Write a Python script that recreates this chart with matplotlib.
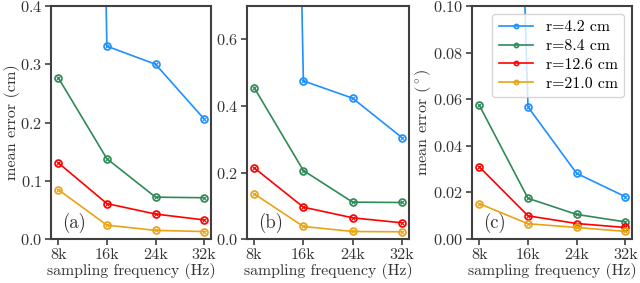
import numpy as np
import matplotlib
matplotlib.use("Agg")
import matplotlib.pyplot as plt

plt.rcParams['font.family'] = 'serif'
plt.rcParams['font.serif'] = ['cmr10']
plt.rcParams['mathtext.fontset'] = 'cm'
plt.rcParams['axes.unicode_minus'] = False
plt.rcParams['axes.formatter.use_mathtext'] = True

freqs = [8, 16, 24, 32]
freq_labels = ['8k', '16k', '24k', '32k']
radii = ['r=4.2 cm', 'r=8.4 cm', 'r=12.6 cm', 'r=21.0 cm']
colors = ['#1e90ff', '#2e8b57', '#ff0000', '#e8a317']

# (a) position error in cm
err_a = [
    [5.0, 0.331, 0.300, 0.206],
    [0.277, 0.138, 0.072, 0.071],
    [0.131, 0.061, 0.043, 0.033],
    [0.085, 0.024, 0.015, 0.013],
]
# (b) error in cm
err_b = [
    [8.0, 0.475, 0.423, 0.305],
    [0.455, 0.206, 0.111, 0.110],
    [0.214, 0.096, 0.064, 0.049],
    [0.136, 0.038, 0.023, 0.022],
]
# (c) angular error in degrees
err_c = [
    [0.75, 0.0567, 0.0282, 0.0182],
    [0.0574, 0.0175, 0.0106, 0.0074],
    [0.0310, 0.0100, 0.0067, 0.0050],
    [0.0152, 0.0066, 0.0050, 0.0033],
]

fig = plt.figure(figsize=(6.4, 2.83), dpi=100)
positions = [
    [0.080, 0.155, 0.250, 0.824],
    [0.386, 0.155, 0.253, 0.824],
    [0.738, 0.155, 0.250, 0.824],
]
panels = [err_a, err_b, err_c]
ylims = [(0, 0.4), (0, 0.7), (0, 0.10)]
yticks = [np.arange(0, 0.41, 0.1), [0.0, 0.2, 0.4, 0.6], np.arange(0, 0.101, 0.02)]
ylabels = ['mean error (cm)', None, r'mean error ($^\circ$)']
tags = ['(a)', '(b)', '(c)']
fs = 11.7
spine_col = '#404040'

for i in range(3):
    ax = fig.add_axes(positions[i])
    for j in range(4):
        ax.plot(freqs, panels[i][j], color=colors[j], lw=1.2, marker='o',
                ms=5, mfc='none', mew=1.2, label=radii[j])
        ax.plot(freqs, panels[i][j], color=colors[j], lw=0, marker='x',
                ms=3, mew=0.8)
    ax.set_xlim(6.85, 33.15)
    ax.set_ylim(*ylims[i])
    ax.set_yticks(yticks[i])
    ax.set_xticks(freqs)
    ax.set_xticklabels(freq_labels)
    ax.tick_params(labelsize=fs, colors=spine_col, length=4, width=1.2,
                   labelcolor='#333333', pad=2.5)
    for s in ax.spines.values():
        s.set_color(spine_col)
        s.set_linewidth(1.5)
    ax.set_xlabel('sampling frequency (Hz)', fontsize=11.3, color='#333333', labelpad=1)
    if ylabels[i]:
        ax.set_ylabel(ylabels[i], fontsize=fs, color='#333333', labelpad=0)
    ax.text(0.07, 0.05, tags[i], transform=ax.transAxes, fontsize=13.5,
            color='#333333')
    if i == 2:
        ax.legend(loc='upper right', fontsize=fs - 0.3, markerscale=0.6,
                  framealpha=0.8, handlelength=2.2, borderpad=0.4,
                  labelspacing=0.3)

fig.savefig('out.png', dpi=100)
